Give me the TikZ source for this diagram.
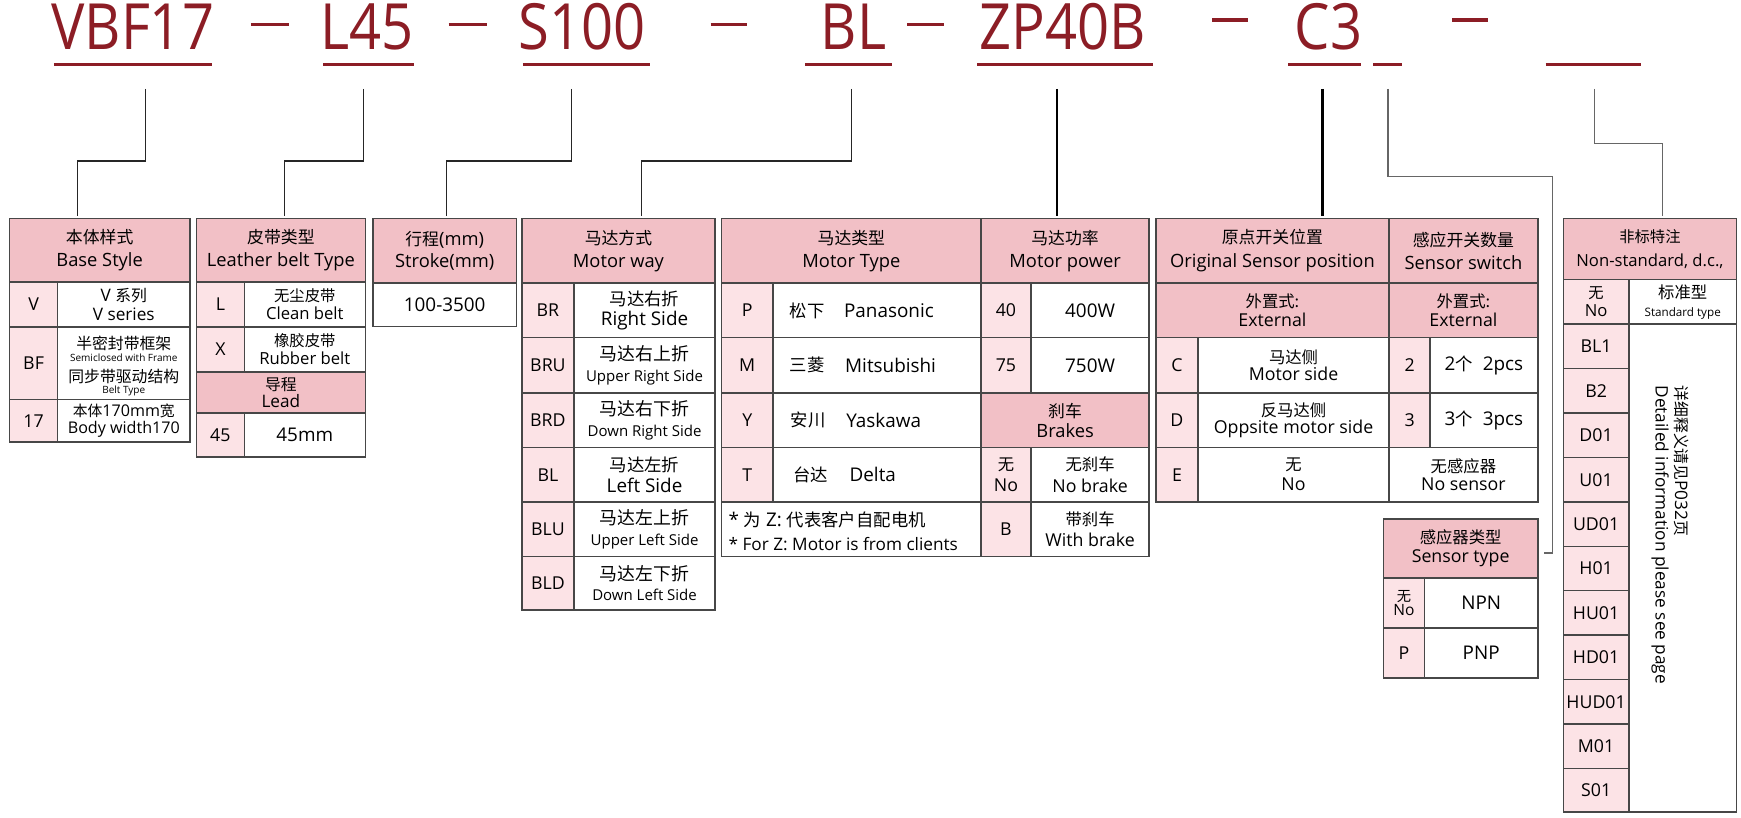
\documentclass[tikz,border=0pt]{standalone}
\usepackage{fontspec}
\setmainfont{Open Sans}
\newfontfamily\cjk[Scale=0.92]{Noto Sans CJK SC}
\newfontfamily\codefont[FakeStretch=0.88]{Open Sans}
\definecolor{hdr}{HTML}{F2C0C6}
\definecolor{cod}{HTML}{FCE3E6}
\definecolor{redc}{HTML}{8C1D25}
\definecolor{bord}{HTML}{474747}
\newcommand\cj[1]{{\cjk #1}}
\tikzset{
 cellbox/.style={draw=bord, line width=1.3pt, inner sep=0pt, align=center, font=\fontsize{15.5}{17}\selectfont},
 hdrbox/.style={cellbox, fill=hdr, font=\fontsize{16.5}{20.5}\selectfont},
 codebox/.style={cellbox, fill=cod, font=\fontsize{16}{17}\selectfont},
 descbox/.style={cellbox, fill=white},
 big/.style={font=\fontsize{17}{19}\selectfont},
 txt/.style={inner sep=0pt, font=\fontsize{17}{19}\selectfont},
 conn/.style={draw=black!85, line width=1pt},
 conng/.style={draw=black!60, line width=1.2pt},
 connthick/.style={draw=black, line width=2pt},
 codetext/.style={font=\codefont\fontsize{57.4}{60}\selectfont, text=redc, inner sep=0pt, anchor=base west},
 uline/.style={draw=redc, line width=3pt},
 dashl/.style={draw=redc, line width=3pt},
}
\newcommand\cell[7]{\node[#6, minimum width={(#4)-(#2)}, minimum height={(#5)-(#3)}] (#1) at ({((#2)+(#4))/2},{((#3)+(#5))/2}) {#7};}
\begin{document}
\begin{tikzpicture}[x=1pt,y=-1pt]
\useasboundingbox[fill=white] (0,0) rectangle (1568,736);
% ---------- top code ----------
\node[codetext] (tVBF) at (46,44.5) {VBF17};
\node[codetext] (tL) at (288,44.5) {L45};
\node[codetext] (tS) at (467,44.5) {S100};
\node[codetext] (tBL) at (739,44.5) {BL};
\node[codetext] (tZP) at (882,44.5) {ZP40B};
\node[codetext] (tC) at (1166,44.5) {C3};
\draw[uline] (48.5,58) -- (190.6,58);
\draw[uline] (291,58) -- (372.5,58);
\draw[uline] (471,58) -- (585,58);
\draw[uline] (725,58) -- (803,58);
\draw[uline] (880,58) -- (1038,58);
\draw[uline] (1160,58) -- (1226,58);
\draw[uline] (1237,58) -- (1263,58);
\draw[uline] (1392,58) -- (1478,58);
\draw[dashl] (226,22) -- (260,22);
\draw[dashl] (404,22) -- (439,22);
\draw[dashl] (640,22) -- (673,22);
\draw[dashl] (817,22) -- (850,22);
\draw[dashl] (1092,18) -- (1124,18);
\draw[dashl] (1308,18) -- (1340,18);
% ---------- connectors ----------
\coordinate (k1s) at (131,80);  \coordinate (k1e) at (70,194.5);
\coordinate (k2s) at (327,80);  \coordinate (k2e) at (256,194.5);
\coordinate (k3s) at (515,80);  \coordinate (k3e) at (402,194.5);
\coordinate (k4s) at (767,80);  \coordinate (k4e) at (578,194.5);
\coordinate (k5s) at (952,80);  \coordinate (k5e) at (952,194.5);
\coordinate (k6s) at (1191,80); \coordinate (k6e) at (1191,194.5);
\coordinate (k7s) at (1250,80); \coordinate (k7m) at (1398,498); \coordinate (k7e) at (1390.5,498);
\coordinate (k8s) at (1436,80); \coordinate (k8e) at (1497,194.5);
\draw[conn] (k1s) -- ++(0,65) -| (k1e);
\draw[conn] (k2s) -- ++(0,65) -| (k2e);
\draw[conn] (k3s) -- ++(0,65) -| (k3e);
\draw[conn] (k4s) -- ++(0,65) -| (k4e);
\draw[connthick] (k5s) -- (k5e);
\draw[connthick] (k6s) -- (k6e);
\draw[conng] (k7s) -- ++(0,79) -| (k7m) -- (k7e);
\draw[conng] (k8s) -- ++(0,49) -| (k8e);
% ---------- Base style ----------
\cell{bsH}{8.5}{197}{171}{254}{hdrbox}{\cj{本体样式}\\Base Style}
\cell{bsC1}{8.5}{254}{52}{294.5}{codebox}{V}
\cell{bsD1}{52}{254}{171}{294.5}{descbox}{V \cj{系列}\\V series}
\cell{bsC2}{8.5}{294.5}{52}{360}{codebox}{BF}
\cell{bsD2}{52}{294.5}{171}{360}{descbox}{}
\node[inner sep=0pt, font=\cjk\fontsize{15.5}{16}\selectfont] (bsD2a) at (111.5,309) {半密封带框架};
\node[inner sep=0pt, font=\fontsize{9}{10}\selectfont] (bsD2b) at (111.5,322) {Semiclosed with Frame};
\node[inner sep=0pt, font=\cjk\fontsize{15.5}{16}\selectfont] (bsD2c) at (111.5,339) {同步带驱动结构};
\node[inner sep=0pt, font=\fontsize{9}{10}\selectfont] (bsD2d) at (111.5,352) {Belt Type};
\cell{bsC3}{8.5}{360}{52}{398}{codebox}{17}
\cell{bsD3}{52}{360}{171}{398}{descbox, font=\fontsize{14.5}{15.5}\selectfont}{\cj{本体}170mm\cj{宽}\\Body width170}
% ---------- Leather belt ----------
\cell{lbH}{177}{197}{329}{254}{hdrbox}{\cj{皮带类型}\\Leather belt Type}
\cell{lbC1}{177}{254}{220}{294.5}{codebox}{L}
\cell{lbD1}{220}{254}{329}{294.5}{descbox, font=\fontsize{15}{16}\selectfont}{\cj{无尘皮带}\\Clean belt}
\cell{lbC2}{177}{294.5}{220}{335}{codebox}{X}
\cell{lbD2}{220}{294.5}{329}{335}{descbox, font=\fontsize{15}{16}\selectfont}{\cj{橡胶皮带}\\Rubber belt}
\cell{lbL}{177}{335}{329}{372}{hdrbox, font=\fontsize{15.5}{15.5}\selectfont}{\cj{导程}\\Lead}
\cell{lbC3}{177}{372}{220}{411.6}{codebox}{45}
\cell{lbD3}{220}{372}{329}{411.6}{descbox, big}{45mm}
% ---------- Stroke ----------
\cell{stH}{336}{197}{465}{255}{hdrbox}{\cj{行程}(mm)\\Stroke(mm)}
\cell{stD}{336}{255}{465}{294}{descbox, big}{100-3500}
% ---------- Motor way ----------
\cell{mwH}{470}{197}{644}{255}{hdrbox}{\cj{马达方式}\\Motor way}
\cell{mwC1}{470}{255}{517}{304}{codebox}{BR}
\cell{mwD1}{517}{255}{644}{304}{descbox, font=\fontsize{17}{18.5}\selectfont}{\cj{马达右折}\\Right Side}
\cell{mwC2}{470}{304}{517}{354}{codebox}{BRU}
\cell{mwD2}{517}{304}{644}{354}{descbox, font=\fontsize{13.5}{18.5}\selectfont}{{\cjk\fontsize{17.5}{18}\selectfont 马达右上折}\\Upper Right Side}
\cell{mwC3}{470}{354}{517}{403}{codebox}{BRD}
\cell{mwD3}{517}{354}{644}{403}{descbox, font=\fontsize{13.5}{18.5}\selectfont}{{\cjk\fontsize{17.5}{18}\selectfont 马达右下折}\\Down Right Side}
\cell{mwC4}{470}{403}{517}{452}{codebox}{BL}
\cell{mwD4}{517}{403}{644}{452}{descbox, font=\fontsize{17}{18.5}\selectfont}{\cj{马达左折}\\Left Side}
\cell{mwC5}{470}{452}{517}{501}{codebox}{BLU}
\cell{mwD5}{517}{452}{644}{501}{descbox, font=\fontsize{13.5}{18.5}\selectfont}{{\cjk\fontsize{17.5}{18}\selectfont 马达左上折}\\Upper Left Side}
\cell{mwC6}{470}{501}{517}{549.5}{codebox}{BLD}
\cell{mwD6}{517}{501}{644}{549.5}{descbox, font=\fontsize{13.5}{18.5}\selectfont}{{\cjk\fontsize{17.5}{18}\selectfont 马达左下折}\\Down Left Side}
% ---------- Motor type ----------
\cell{mtH}{650}{197}{883.5}{255}{hdrbox}{\cj{马达类型}\\Motor Type}
\cell{mtC1}{650}{255}{696}{304}{codebox}{P}
\cell{mtD1}{696}{255}{883.5}{304}{descbox}{}
\cell{mtC2}{650}{304}{696}{354}{codebox}{M}
\cell{mtD2}{696}{304}{883.5}{354}{descbox}{}
\cell{mtC3}{650}{354}{696}{403}{codebox}{Y}
\cell{mtD3}{696}{354}{883.5}{403}{descbox}{}
\cell{mtC4}{650}{403}{696}{452}{codebox}{T}
\cell{mtD4}{696}{403}{883.5}{452}{descbox}{}
\cell{mtN}{650}{452}{883.5}{501}{descbox}{}
\node[txt, anchor=west] (mtD1a) at (711,280) {\cj{松下}};
\node[txt, anchor=west] (mtD1b) at (760,280) {Panasonic};
\node[txt, anchor=west] (mtD2a) at (711,329) {\cj{三菱}};
\node[txt, anchor=west] (mtD2b) at (761,329) {Mitsubishi};
\node[txt, anchor=west] (mtD3a) at (712,378.5) {\cj{安川}};
\node[txt, anchor=west] (mtD3b) at (762,378.5) {Yaskawa};
\node[txt, anchor=west] (mtD4a) at (714,427.5) {\cj{台达}};
\node[txt, anchor=west] (mtD4b) at (765,427.5) {Delta};
\node[inner sep=0pt, anchor=west, align=left, font=\fontsize{15.5}{21}\selectfont] (mtNt) at (656,478.5) {{\fontsize{17}{21}\selectfont * \cj{为} Z: \cj{代表客户自配电机}}\\* For Z: Motor is from clients};
% ---------- Motor power ----------
\cell{mpH}{883.5}{197}{1035}{255}{hdrbox}{\cj{马达功率}\\Motor power}
\cell{mpC1}{883.5}{255}{928.5}{304}{codebox}{40}
\cell{mpD1}{928.5}{255}{1035}{304}{descbox, big}{400W}
\cell{mpC2}{883.5}{304}{928.5}{354}{codebox}{75}
\cell{mpD2}{928.5}{304}{1035}{354}{descbox, big}{750W}
\cell{mpB}{883.5}{354}{1035}{403}{hdrbox, font=\fontsize{16.5}{18.5}\selectfont}{\cj{刹车}\\Brakes}
\cell{mpC3}{883.5}{403}{928.5}{452}{codebox, font=\fontsize{16}{19}\selectfont}{\cj{无}\\No}
\cell{mpD3}{928.5}{403}{1035}{452}{descbox, font=\fontsize{16}{19}\selectfont}{\cj{无刹车}\\No brake}
\cell{mpC4}{883.5}{452}{928.5}{501}{codebox}{B}
\cell{mpD4}{928.5}{452}{1035}{501}{descbox, font=\fontsize{16}{19}\selectfont}{\cj{带刹车}\\With brake}
% ---------- Original sensor position ----------
\cell{osH}{1041}{197}{1251}{255}{hdrbox, font=\fontsize{16.5}{21.5}\selectfont}{\cj{原点开关位置}\\Original Sensor position}
\cell{osE}{1041}{255}{1251}{304}{hdrbox, font=\fontsize{16}{16.5}\selectfont}{\cj{外置式:}\\External}
\cell{osC1}{1041}{304}{1079}{354}{codebox}{C}
\cell{osD1}{1079}{304}{1251}{354}{descbox, font=\fontsize{16}{15.5}\selectfont}{\cj{马达侧}\\Motor side}
\cell{osC2}{1041}{354}{1079}{403}{codebox}{D}
\cell{osD2}{1079}{354}{1251}{403}{descbox, font=\fontsize{16}{15.5}\selectfont}{\cj{反马达侧}\\Oppsite motor side}
\cell{osC3}{1041}{403}{1079}{452}{codebox}{E}
\cell{osD3}{1079}{403}{1251}{452}{descbox, font=\fontsize{16}{18}\selectfont}{\cj{无}\\No}
% ---------- Sensor switch ----------
\cell{ssH}{1251}{197}{1385}{255}{hdrbox, font=\fontsize{16.5}{21.5}\selectfont}{\cj{感应开关数量}\\Sensor switch}
\cell{ssE}{1251}{255}{1385}{304}{hdrbox, font=\fontsize{16}{16.5}\selectfont}{\cj{外置式:}\\External}
\cell{ssC1}{1251}{304}{1288}{354}{codebox}{2}
\cell{ssD1}{1288}{304}{1385}{354}{descbox, big}{2\cj{个}\hspace{9pt}2pcs}
\cell{ssC2}{1251}{354}{1288}{403}{codebox}{3}
\cell{ssD2}{1288}{354}{1385}{403}{descbox, big}{3\cj{个}\hspace{9pt}3pcs}
\cell{ssN}{1251}{403}{1385}{452}{descbox, font=\fontsize{16}{16.5}\selectfont}{\cj{无感应器}\\No sensor}
% ---------- Sensor type ----------
\cell{tyH}{1246}{467.5}{1385}{520.5}{hdrbox, font=\fontsize{16}{17}\selectfont}{\cj{感应器类型}\\Sensor type}
\cell{tyC1}{1246}{520.5}{1283}{565.5}{codebox, font=\fontsize{14}{12.5}\selectfont}{\cj{无}\\No}
\cell{tyD1}{1283}{520.5}{1385}{565.5}{descbox, big}{NPN}
\cell{tyC2}{1246}{565.5}{1283}{610.5}{codebox}{P}
\cell{tyD2}{1283}{565.5}{1385}{610.5}{descbox, big}{PNP}
% ---------- Non-standard ----------
\cell{nsH}{1408}{197}{1564}{251.5}{hdrbox, font=\fontsize{15}{21}\selectfont}{\cj{非标特注}\\Non-standard, d.c.,}
\cell{nsC0}{1408}{251.5}{1467}{292}{codebox, font=\fontsize{15}{16}\selectfont}{\cj{无}\\No}
\cell{nsD0}{1467}{251.5}{1564}{292}{descbox, font=\fontsize{10.5}{16}\selectfont}{{\cjk\fontsize{16}{16}\selectfont 标准型}\\Standard type}
\cell{nsC1}{1408}{292}{1467}{332}{codebox}{BL1}
\cell{nsC2}{1408}{332}{1467}{372}{codebox}{B2}
\cell{nsC3}{1408}{372}{1467}{412}{codebox}{D01}
\cell{nsC4}{1408}{412}{1467}{452}{codebox}{U01}
\cell{nsC5}{1408}{452}{1467}{492}{codebox}{UD01}
\cell{nsC6}{1408}{492}{1467}{532}{codebox}{H01}
\cell{nsC7}{1408}{532}{1467}{572}{codebox}{HU01}
\cell{nsC8}{1408}{572}{1467}{612}{codebox}{HD01}
\cell{nsC9}{1408}{612}{1467}{652}{codebox}{HUD01}
\cell{nsC10}{1408}{652}{1467}{692}{codebox}{M01}
\cell{nsC11}{1408}{692}{1467}{731.5}{codebox}{S01}
\cell{nsD1}{1467}{292}{1564}{731.5}{descbox}{}
\node[rotate=-90, anchor=west, align=left, inner sep=0pt, font=\fontsize{15.5}{17.5}\selectfont] (nsT) at (1504,347) {\cj{详细释义请见}P032\cj{页}\\Detailed information please see page};
\end{tikzpicture}
\end{document}
